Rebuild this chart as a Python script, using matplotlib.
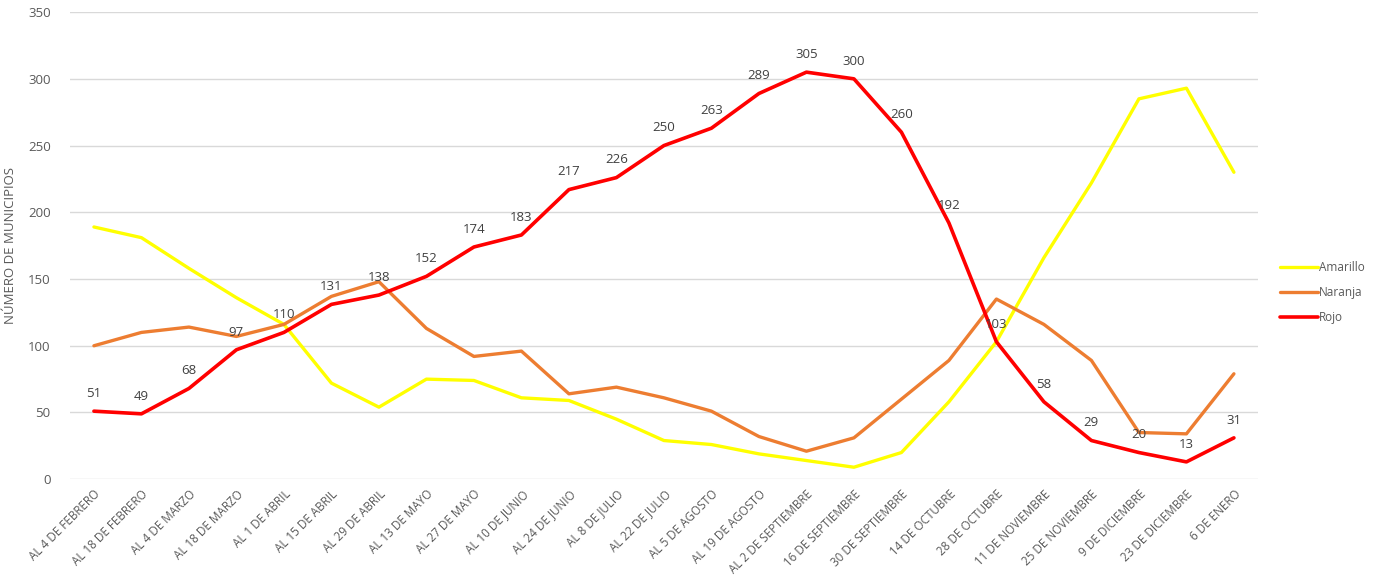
import matplotlib
matplotlib.use('Agg')
import matplotlib.pyplot as plt

plt.rcParams['font.family'] = ['Open Sans', 'DejaVu Sans']

fechas = ['AL 4 DE FEBRERO', 'AL 18 DE FEBRERO', 'AL 4 DE MARZO', 'AL 18 DE MARZO',
          'AL 1 DE ABRIL', 'AL 15 DE ABRIL', 'AL 29 DE ABRIL', 'AL 13 DE MAYO',
          'AL 27 DE MAYO', 'AL 10 DE JUNIO', 'AL 24 DE JUNIO', 'AL 8 DE JULIO',
          'AL 22 DE JULIO', 'AL 5 DE AGOSTO', 'AL 19 DE AGOSTO', 'AL 2 DE SEPTIEMBRE',
          '16 DE SEPTIEMBRE', '30 DE SEPTIEMBRE', '14 DE OCTUBRE', '28 DE OCTUBRE',
          '11 DE NOVIEMBRE', '25 DE NOVIEMBRE', '9 DE DICIEMBRE', '23 DE DICIEMBRE',
          '6 DE ENERO']
amarillo = [189, 181, 158, 136, 116, 72, 54, 75, 74, 61, 59, 45, 29, 26, 19, 14, 9,
            20, 58, 103, 166, 222, 285, 293, 230]
naranja = [100, 110, 114, 107, 116, 137, 148, 113, 92, 96, 64, 69, 61, 51, 32, 21, 31,
           60, 89, 135, 116, 89, 35, 34, 79]
rojo = [51, 49, 68, 97, 110, 131, 138, 152, 174, 183, 217, 226, 250, 263, 289, 305,
        300, 260, 192, 103, 58, 29, 20, 13, 31]

gris = '#595959'
fig = plt.figure(figsize=(13.76, 5.76), dpi=100)
ax = fig.add_axes([0.051, 0.168, 0.863, 0.811])

x = range(len(fechas))
ax.plot(x, amarillo, color='#FFFF00', lw=2.4, label='Amarillo', solid_capstyle='round')
ax.plot(x, naranja, color='#ED7D31', lw=2.4, label='Naranja', solid_capstyle='round')
ax.plot(x, rojo, color='#FF0000', lw=2.6, label='Rojo', solid_capstyle='round')

# etiquetas de datos de la serie roja
for i, v in zip(x, rojo):
    ax.annotate(str(v), (i, v), xytext=(0, 8), textcoords='offset points',
                ha='center', va='bottom', fontsize=9.5, color='#404040')

ax.set_xlim(-0.5, len(fechas) - 0.5)
ax.set_ylim(0, 350)
ax.set_yticks(range(0, 351, 50))
ax.set_xticks(list(x))
ax.set_xticklabels(fechas, rotation=45, ha='right', rotation_mode='anchor',
                   fontsize=8.4, color=gris)
ax.tick_params(axis='y', labelsize=9.5, labelcolor=gris, length=0, pad=14)
ax.tick_params(axis='x', length=0, pad=6)
ax.grid(axis='y', color='#d9d9d9', lw=1)
ax.set_axisbelow(True)
for s in ax.spines.values():
    s.set_visible(False)
ax.set_ylabel('NÚMERO DE MUNICIPIOS', fontsize=9.5, color=gris, labelpad=8)

ax.legend(loc='center left', bbox_to_anchor=(1.01, 0.40), frameon=False,
          fontsize=8.5, labelcolor=gris, handlelength=3.2, handletextpad=0.1,
          labelspacing=1.0)

fig.savefig('out.png', dpi=100)
